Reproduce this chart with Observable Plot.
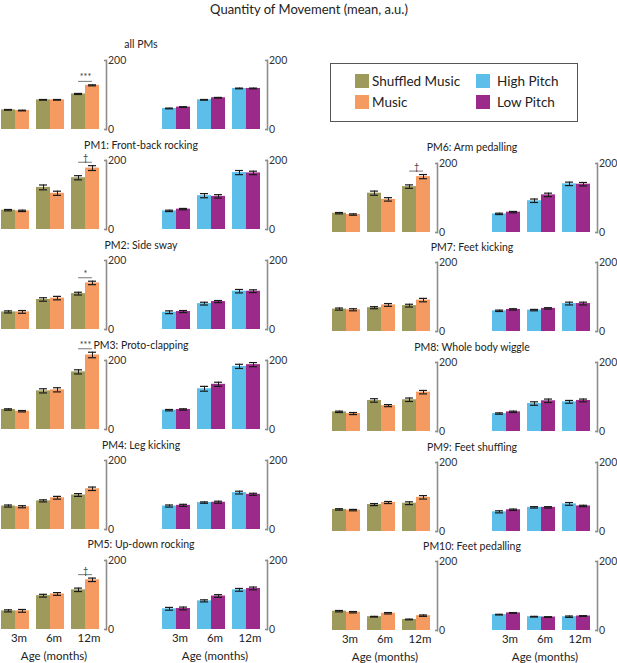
<!DOCTYPE html>
<html>
<head>
<meta charset="utf-8">
<script src="https://cdn.jsdelivr.net/npm/d3@7"></script>
<script src="https://cdn.jsdelivr.net/npm/@observablehq/plot@0.6"></script>
<style>
  body { margin: 0; background: #fff; }
  #chart { position: relative; width: 617px; height: 663px; overflow: hidden;
           font-family: Lato, "Open Sans", sans-serif; color: #222; }
  .ttl { position: absolute; transform: translate(-50%, -50%); white-space: nowrap; font-size: 10.5px; }
  .legend { position: absolute; border: 1px solid #555; box-sizing: border-box; }
  .sw { position: absolute; width: 14px; height: 14px; }
  .lt { position: absolute; font-size: 13.5px; white-space: nowrap; transform: translateY(-50%); }
</style>
</head>
<body>
<div id="chart"></div>
<script>
// Age groups and conditions
const ages = ["3m", "6m", "12m"];
const musicConds = ["Shuffled Music", "Music"];
const pitchConds = ["High Pitch", "Low Pitch"];
const musicColors = ["#9d9a5c", "#f59b62"];
const pitchColors = ["#5bbfe9", "#9b2a8b"];

const panelTitles = [
  "all PMs",
  "PM1: Front-back rocking",
  "PM2: Side sway",
  "PM3: Proto-clapping",
  "PM4: Leg kicking",
  "PM5: Up-down rocking",
  "PM6: Arm pedalling",
  "PM7: Feet kicking",
  "PM8: Whole body wiggle",
  "PM9: Feet shuffling",
  "PM10: Feet pedalling"
];

// Mean quantity of movement per panel: [3m A, 3m B, 6m A, 6m B, 12m A, 12m B]
const musicMeans = [
  [57, 55, 86, 86, 103, 128],
  [56, 54, 122, 105, 150, 178],
  [51, 51, 87, 91, 104, 135],
  [58, 53, 112, 115, 167, 216],
  [68, 66, 83, 92, 100, 118],
  [54, 54, 98, 103, 115, 144],
  [56, 52, 114, 96, 133, 162],
  [65, 63, 69, 77, 75, 91],
  [57, 52, 90, 75, 92, 114],
  [64, 62, 78, 84, 82, 99],
  [56, 53, 40, 50, 32, 43]
];
const musicErrs = [
  [1, 1, 1, 1, 1.5, 1.5],
  [2, 2, 7, 6, 6, 7],
  [3, 4, 5, 5, 4, 5],
  [2, 2, 6, 6, 6, 8],
  [3, 3, 3, 4, 4, 5],
  [3, 4, 4, 4, 5, 5],
  [2, 2, 6, 5, 5, 6],
  [3, 3, 3, 4, 4, 5],
  [2, 3, 5, 3, 5, 5],
  [2, 2, 3, 3, 4, 5],
  [2, 2, 1, 2, 1, 2]
];
const pitchMeans = [
  [61, 65, 86, 92, 119, 119],
  [54, 59, 98, 96, 165, 164],
  [50, 52, 75, 81, 111, 111],
  [56, 58, 118, 131, 183, 188],
  [68, 70, 78, 79, 107, 102],
  [60, 61, 83, 97, 115, 119],
  [54, 59, 92, 109, 141, 140],
  [60, 64, 62, 67, 81, 81],
  [52, 57, 81, 89, 86, 90],
  [57, 63, 70, 70, 80, 74],
  [46, 51, 40, 39, 40, 42]
];
const pitchErrs = [
  [1, 1, 1, 1, 1, 1],
  [2, 2, 6, 5, 6, 5],
  [4, 3, 4, 3, 5, 4],
  [2, 2, 7, 6, 6, 6],
  [3, 3, 2, 3, 4, 3],
  [4, 4, 3, 4, 4, 4],
  [2, 2, 5, 5, 5, 5],
  [2, 2, 2, 2, 4, 4],
  [2, 2, 5, 5, 4, 4],
  [3, 2, 2, 2, 4, 2],
  [1, 1, 1, 1, 2, 1]
];
// Significance of Music vs Shuffled Music at 12 months
const musicSig = ["***", "†", "*", "***", null, "†", "†", null, null, null, null];

const yTicks = [0, 200];
const FONT = 'Lato, "Open Sans", sans-serif';

// Layout
const W = 106, MR = 26, MT = 26, H = 69, MB = 36;
const colX = [[0, 161], [331, 491]];        // [music, pitch] frame lefts per column
const titleX = [141, 472];
const leftBottoms = [128.5, 229.3, 329.3, 429.3, 529.3, 628.7];
const rightBottoms = [null, 231.7, 331, 431, 531, 630];

const root = document.getElementById("chart");

function subchart(means, errs, conds, colors, sig, isBottom) {
  const rows = ages.flatMap((age, i) =>
    conds.map((cond, j) => ({age, cond, mean: means[2 * i + j], err: errs[2 * i + j]})));
  const lo = d => d.mean - d.err, hi = d => d.mean + d.err;
  const marks = [
    Plot.barY(rows, {fx: "age", x: "cond", y: "mean", fill: "cond"}),
    Plot.barY(rows, {fx: "age", x: "cond", y1: lo, y2: hi, fill: "white", fillOpacity: 0.35, inset: 3}),
    Plot.ruleX(rows, {fx: "age", x: "cond", y1: lo, y2: hi, stroke: "#1a1a1a", strokeWidth: 1}),
    Plot.tickY(rows, {fx: "age", x: "cond", y: lo, stroke: "#1a1a1a", strokeWidth: 1.2, inset: 3}),
    Plot.tickY(rows, {fx: "age", x: "cond", y: hi, stroke: "#1a1a1a", strokeWidth: 1.2, inset: 3}),
    // bracket-style value axis on the right of the last age group
    Plot.frame({anchor: "right", facetAnchor: "right", stroke: "#8e8e8e", strokeWidth: 1.6}),
    Plot.axisY({anchor: "right", ticks: yTicks, tickSize: -3, tickPadding: 4.5,
                stroke: "#8e8e8e", strokeWidth: 1.6, fill: "#333", fontSize: 10.5, label: null})
  ];
  if (sig) {
    const group = rows.filter(d => d.age === "12m");
    const level = d3.max(group, hi) + 10;
    const mark = [{age: "12m", level, sig}];
    marks.push(
      Plot.tickY(group.filter(d => d.cond === conds[0]), {fx: "age", x: "cond", y: () => level, stroke: "#555", strokeWidth: 0.8, insetLeft: 7.1}),
      Plot.tickY(group.filter(d => d.cond === conds[1]), {fx: "age", x: "cond", y: () => level, stroke: "#555", strokeWidth: 0.8, insetRight: 7.1}),
      Plot.text(mark, {fx: "age", y: "level", text: "sig", dx: -3.5, dy: -1, lineAnchor: "bottom", fontSize: 9, fill: "#333"})
    );
  }
  if (isBottom) {
    marks.push(Plot.axisFx({anchor: "bottom", tickSize: 0, tickPadding: 4, label: "Age (months)",
      labelAnchor: "center", labelOffset: 30, fontSize: 11.5, fill: "#222"}));
  }
  return Plot.plot({
    width: W + MR,
    height: MT + H + (isBottom ? MB : 0),
    marginLeft: 0, marginRight: MR, marginTop: MT, marginBottom: isBottom ? MB : 0,
    style: {fontFamily: FONT, fontSize: "11px", overflow: "visible", background: "transparent"},
    fx: isBottom ? {domain: ages, padding: 0} : {domain: ages, padding: 0, axis: null},
    x: {domain: conds, padding: 0, insetRight: 7, axis: null},
    y: {domain: [0, 200]},
    color: {domain: conds, range: colors},
    marks
  });
}

function place(el, left, top) {
  el.style.position = "absolute";
  el.style.left = left + "px";
  el.style.top = top + "px";
  root.appendChild(el);
}

// Overall title
const head = document.createElement("div");
head.className = "ttl";
head.style.fontSize = "13px";
head.textContent = "Quantity of Movement (mean, a.u.)";
head.style.left = "309px"; head.style.top = "8.5px";
root.appendChild(head);

panelTitles.forEach((title, p) => {
  const col = p < 6 ? 0 : 1;
  const row = p < 6 ? p : p - 5;
  const bottom = col === 0 ? leftBottoms[row] : rightBottoms[row];
  const isBottom = row === 5;

  const t = document.createElement("div");
  t.className = "ttl";
  t.textContent = title;
  t.style.left = titleX[col] + "px";
  t.style.top = (bottom - 84.5) + "px";
  root.appendChild(t);

  const top = bottom - H - MT;
  place(subchart(musicMeans[p], musicErrs[p], musicConds, musicColors, musicSig[p], isBottom), colX[col][0], top);
  place(subchart(pitchMeans[p], pitchErrs[p], pitchConds, pitchColors, null, isBottom), colX[col][1], top);
});

// Legend box (2 x 2)
const legend = document.createElement("div");
legend.className = "legend";
Object.assign(legend.style, {left: "330px", top: "63px", width: "248px", height: "59px"});
root.appendChild(legend);
const entries = [
  [musicConds[0], musicColors[0], 0, 0], [musicConds[1], musicColors[1], 0, 1],
  [pitchConds[0], pitchColors[0], 1, 0], [pitchConds[1], pitchColors[1], 1, 1]
];
entries.forEach(([label, color, c, r]) => {
  const sw = document.createElement("div");
  sw.className = "sw";
  sw.style.background = color;
  sw.style.left = (24 + c * 121) + "px";
  sw.style.top = (10 + r * 21) + "px";
  legend.appendChild(sw);
  const tx = document.createElement("div");
  tx.className = "lt";
  tx.textContent = label;
  tx.style.left = (41 + c * 125) + "px";
  tx.style.top = (17 + r * 21) + "px";
  legend.appendChild(tx);
});
</script>
</body>
</html>
